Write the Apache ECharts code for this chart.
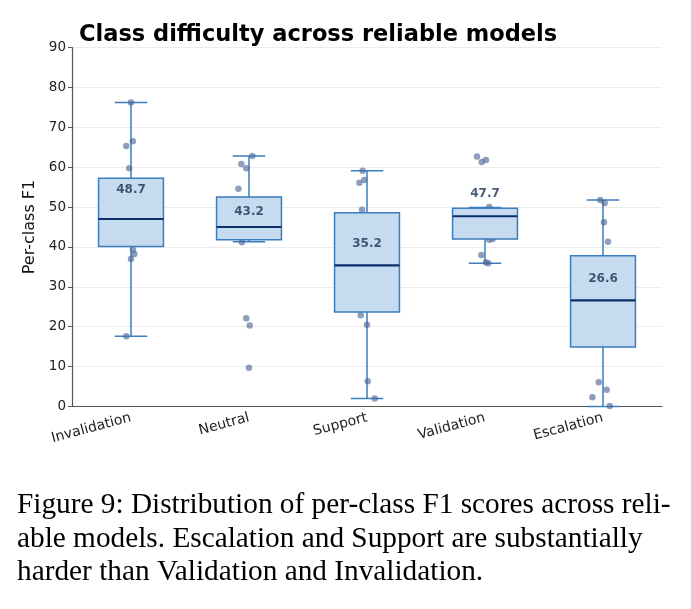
<!DOCTYPE html>
<html>
<head>
<meta charset="utf-8">
<script src="https://cdn.jsdelivr.net/npm/echarts@6/dist/echarts.min.js"></script>
<style>
  html, body { margin: 0; padding: 0; background: #fff; }
  #chart { width: 691px; height: 609px; }
</style>
</head>
<body>
<div id="chart"></div>
<script>
var classes = ['Invalidation', 'Neutral', 'Support', 'Validation', 'Escalation'];
// [lower whisker, Q1, median, Q3, upper whisker]
var boxStats = [
  [17.6, 40.1, 47.0, 57.2, 76.2],
  [41.3, 41.8, 45.0, 52.5, 62.8],
  [2.0, 23.7, 35.4, 48.6, 59.1],
  [35.9, 42.0, 47.7, 49.7, 49.9],
  [0.0, 14.9, 26.6, 37.8, 51.8]
];
var means = [48.7, 43.2, 35.2, 47.7, 26.6];
// per-model F1 scores that are visible outside the boxes
var modelScores = [
  [76.2, 66.5, 65.3, 59.7, 39.3, 38.2, 37.0, 17.6],
  [62.8, 60.8, 59.7, 54.6, 41.2, 22.1, 20.3, 9.7],
  [59.1, 56.8, 56.1, 49.3, 22.9, 20.5, 6.3, 2.0],
  [62.7, 61.8, 61.3, 50.0, 42.0, 41.8, 38.0, 36.1, 35.9],
  [51.8, 51.0, 46.2, 41.3, 6.1, 4.2, 2.3, 0.1]
];
// horizontal strip jitter, in category widths
var jitter = [
  [0.00, 0.015, -0.04, -0.015, 0.017, 0.028, 0.00, -0.04],
  [0.028, -0.065, -0.023, -0.09, -0.06, -0.023, 0.006, 0.00],
  [-0.037, -0.023, -0.065, -0.042, -0.053, 0.00, 0.006, 0.065],
  [-0.068, 0.008, -0.028, 0.036, 0.065, 0.036, -0.031, 0.008, 0.028],
  [-0.023, 0.014, 0.008, 0.042, -0.036, 0.031, -0.09, 0.057]
];

var boxData = boxStats.map(function (s, i) { return [i].concat(s); });
var pointData = [];
modelScores.forEach(function (arr, i) {
  arr.forEach(function (v, k) { pointData.push([i + jitter[i][k], v]); });
});
var meanData = means.map(function (m, i) { return [i, m]; });

var boxFill = '#c6dbef';
var boxLine = '#3a7ebf';
var medianLine = '#0d2f6b';

function whiskers(params, api) {
  var x = api.value(0);
  var bw = api.size([1, 0])[0] * 0.55;
  var lo = api.coord([x, api.value(1)]);
  var q1 = api.coord([x, api.value(2)]);
  var q3 = api.coord([x, api.value(4)]);
  var hi = api.coord([x, api.value(5)]);
  var st = { stroke: boxLine, lineWidth: 1.5 };
  return {
    type: 'group',
    children: [
      { type: 'line', shape: { x1: lo[0], y1: lo[1], x2: q1[0], y2: q1[1] }, style: st },
      { type: 'line', shape: { x1: q3[0], y1: q3[1], x2: hi[0], y2: hi[1] }, style: st },
      { type: 'line', shape: { x1: lo[0] - bw / 4, y1: lo[1], x2: lo[0] + bw / 4, y2: lo[1] }, style: st },
      { type: 'line', shape: { x1: hi[0] - bw / 4, y1: hi[1], x2: hi[0] + bw / 4, y2: hi[1] }, style: st }
    ]
  };
}

function boxes(params, api) {
  var x = api.value(0);
  var bw = api.size([1, 0])[0] * 0.55;
  var q1 = api.coord([x, api.value(2)]);
  var md = api.coord([x, api.value(3)]);
  var q3 = api.coord([x, api.value(4)]);
  return {
    type: 'group',
    children: [
      { type: 'rect', shape: { x: q1[0] - bw / 2, y: q3[1], width: bw, height: q1[1] - q3[1] },
        style: { fill: boxFill, stroke: boxLine, lineWidth: 1.5 } },
      { type: 'line', shape: { x1: md[0] - bw / 2, y1: md[1], x2: md[0] + bw / 2, y2: md[1] },
        style: { stroke: medianLine, lineWidth: 2.2 } }
    ]
  };
}

var chart = echarts.init(document.getElementById('chart'), null, { renderer: 'canvas' });
chart.setOption({
  animation: false,
  title: {
    text: 'Class difficulty across reliable models',
    left: 74, top: 19,
    textStyle: { fontFamily: 'DejaVu Sans', fontSize: 22.5, fontWeight: 'bold', color: '#000' }
  },
  grid: { left: 72, right: 29, top: 47.5, bottom: 202.5 },
  xAxis: [{
    type: 'category',
    data: classes,
    axisLine: { lineStyle: { color: '#555', width: 1.2 } },
    axisTick: { alignWithLabel: true, length: 5, lineStyle: { color: '#555' } },
    axisLabel: { rotate: 15, fontFamily: 'DejaVu Sans', fontSize: 14, color: '#222', margin: 11 },
    splitLine: { show: false }
  }, {
    type: 'value', min: -0.5, max: 4.5, show: false
  }],
  yAxis: {
    type: 'value', min: 0, max: 90, interval: 10,
    name: 'Per-class F1', nameLocation: 'middle', nameGap: 31,
    nameTextStyle: { fontFamily: 'DejaVu Sans', fontSize: 16, color: '#111' },
    axisLine: { show: true, onZero: false, lineStyle: { color: '#555', width: 1.2 } },
    axisTick: { show: true, length: 4, lineStyle: { color: '#555' } },
    axisLabel: { fontFamily: 'DejaVu Sans', fontSize: 13.5, color: '#222', margin: 6 },
    splitLine: { lineStyle: { color: '#ececec', width: 1 } }
  },
  series: [
    { type: 'custom', name: 'whiskers', renderItem: whiskers, data: boxData, z: 2,
      encode: { x: 0, y: [1, 2, 3, 4, 5] } },
    { type: 'scatter', name: 'models', xAxisIndex: 1, data: pointData, z: 3,
      symbolSize: 6.5, itemStyle: { color: 'rgba(80,104,150,0.8)' } },
    { type: 'custom', name: 'boxes', renderItem: boxes, data: boxData, z: 4,
      encode: { x: 0, y: [1, 2, 3, 4, 5] } },
    { type: 'scatter', name: 'mean', data: meanData, z: 5, symbolSize: 0,
      label: { show: true, position: 'top', distance: 16, fontFamily: 'DejaVu Sans',
        fontSize: 12, fontWeight: 'bold', color: '#1a3152',
        formatter: function (p) { return p.value[1].toFixed(1); } } }
  ],
  graphic: [
    { type: 'text', left: 17, top: 491, style: { text: 'Figure 9: Distribution of per-class F1 scores across reli-',
      font: '29.3px "Liberation Serif"', fill: '#000' } },
    { type: 'text', left: 17, top: 524.5, style: { text: 'able models. Escalation and Support are substantially',
      font: '29.3px "Liberation Serif"', fill: '#000' } },
    { type: 'text', left: 17, top: 558, style: { text: 'harder than Validation and Invalidation.',
      font: '29.3px "Liberation Serif"', fill: '#000' } }
  ]
});
</script>
</body>
</html>
